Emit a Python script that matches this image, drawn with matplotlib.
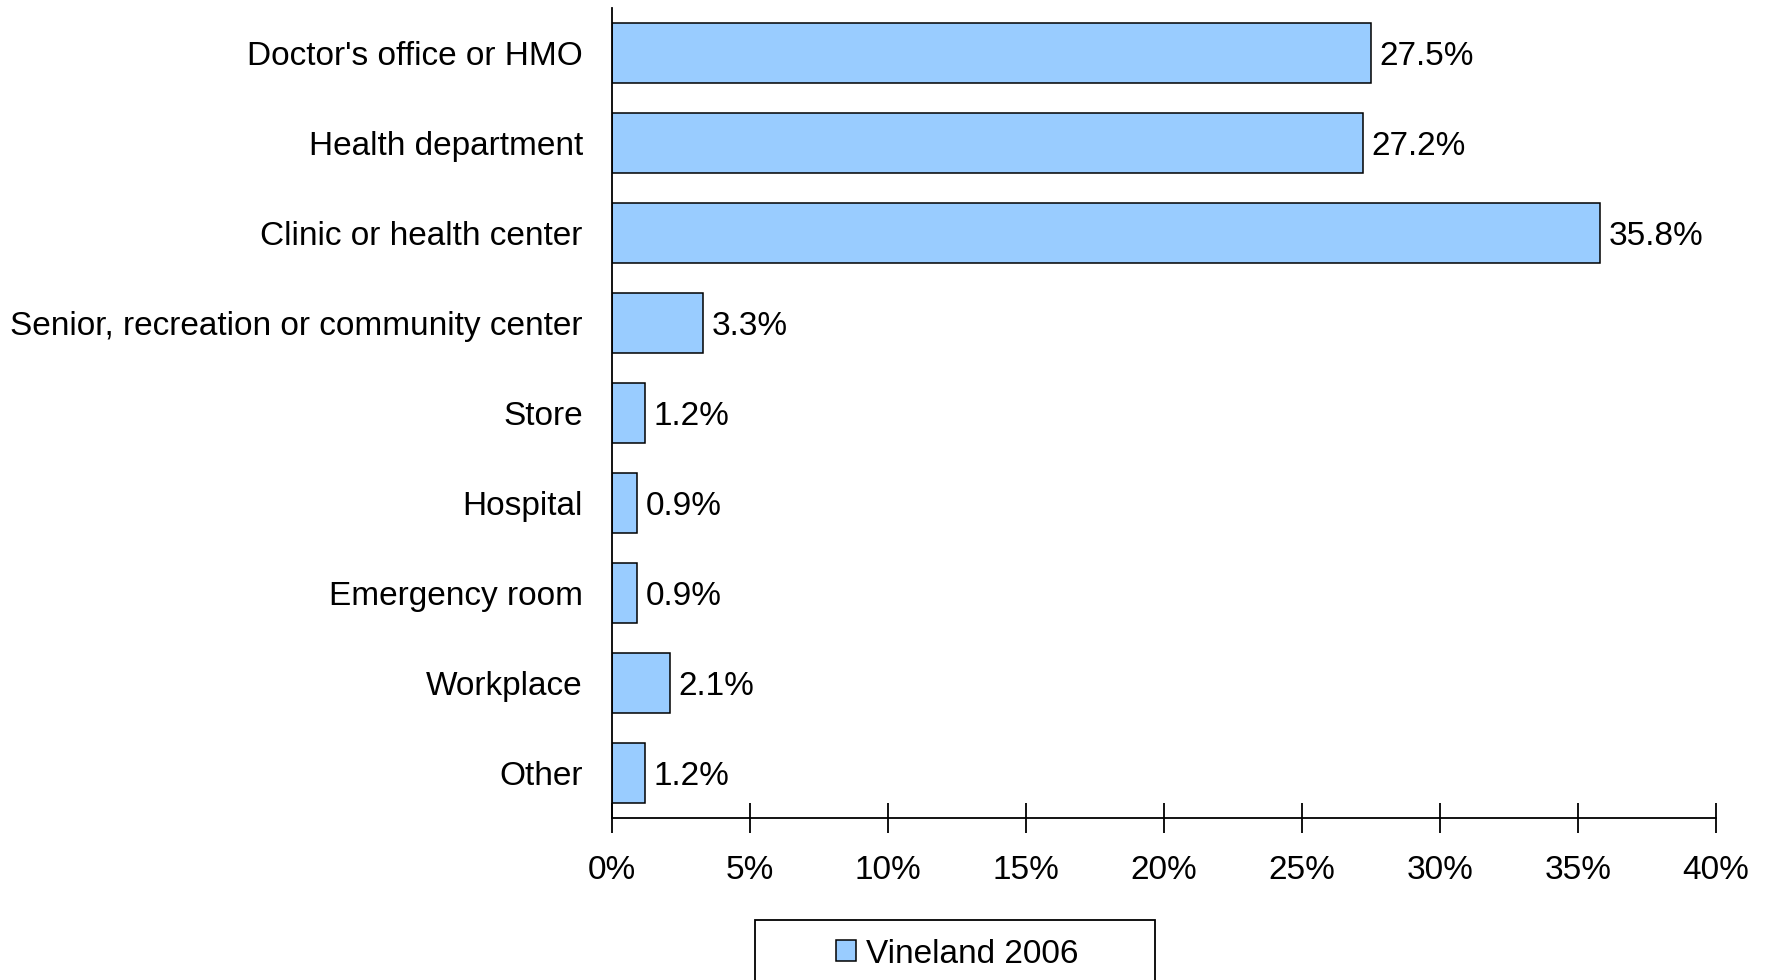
import matplotlib.pyplot as plt
from matplotlib.patches import Rectangle, Patch
from matplotlib.ticker import FuncFormatter

# Data
categories = ["Doctor's office or HMO", 'Health department', 'Clinic or health center',
              'Senior, recreation or community center', 'Store', 'Hospital',
              'Emergency room', 'Workplace', 'Other']
values = [27.5, 27.2, 35.8, 3.3, 1.2, 0.9, 0.9, 2.1, 1.2]
series_name = 'Vineland 2006'
ticks = [0, 5, 10, 15, 20, 25, 30, 35, 40]

plt.rcParams['font.family'] = ['Liberation Sans', 'DejaVu Sans']
bar_color = '#99CCFF'

fig = plt.figure(figsize=(17.68, 9.8), dpi=100)
ax = fig.add_axes([612 / 1768, 1 - 818 / 980, (1716 - 612) / 1768, (818 - 8) / 980])

y = list(range(len(categories)))
bars = ax.barh(y, values, height=0.667, color=bar_color, edgecolor='black', linewidth=1.1)
ax.set_ylim(len(categories) - 0.5, -0.5)
ax.set_xlim(0, 40)

for yi, v in zip(y, values):
    ax.text(v + 0.32, yi, f'{v:.1f}%', va='center_baseline', ha='left', fontsize=24)

ax.set_yticks(y)
ax.set_yticklabels(categories, fontsize=24)
ax.tick_params(axis='y', length=0, pad=21)
ax.set_xticks(ticks)
ax.xaxis.set_major_formatter(FuncFormatter(lambda v, p: f'{v:.0f}%'))
ax.tick_params(axis='x', direction='inout', length=21, width=1.3, labelsize=24, pad=16)

for s in ['top', 'right']:
    ax.spines[s].set_visible(False)
for s in ['left', 'bottom']:
    ax.spines[s].set_linewidth(1.3)

# Legend box running off the bottom edge
fig.patches.append(Rectangle((755 / 1768, -0.05), 400 / 1768, 0.05 + 60 / 980,
                             transform=fig.transFigure, fill=False,
                             edgecolor='black', linewidth=1.3))
handle = Patch(facecolor=bar_color, edgecolor='black', linewidth=1.1)
fig.legend([handle], [series_name], loc='center left',
           bbox_to_anchor=(806 / 1768, 1 - 954 / 980), frameon=False,
           fontsize=24, handlelength=0.6, handleheight=0.6, handletextpad=0.3)

plt.savefig('out.png', dpi=100)
